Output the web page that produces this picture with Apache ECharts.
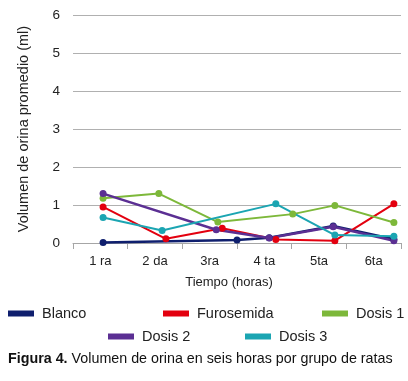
<!DOCTYPE html>
<html lang="es">
<head>
<meta charset="UTF-8">
<title>Figura 4</title>
<script src="https://cdn.jsdelivr.net/npm/echarts@6/dist/echarts.min.js"></script>
<style>
  html, body { margin: 0; padding: 0; background: #fff; }
  #main { width: 408px; height: 381px; }
</style>
</head>
<body>
<div id="main"></div>
<script>
// categorias del eje x
var horas = ['1 ra', '2 da', '3ra', '4 ta', '5ta', '6ta'];
var yTicks = [0, 1, 2, 3, 4, 5, 6];

// puntos [posicion x, volumen ml]
var blanco     = [[0.55, 0.01], [3.0, 0.08], [3.59, 0.14], [4.76, 0.45], [5.87, 0.10]];
var furosemida = [[0.55, 0.95], [1.70, 0.11], [2.73, 0.39], [3.71, 0.09], [4.79, 0.06], [5.87, 1.03]];
var dosis1     = [[0.55, 1.18], [1.57, 1.30], [2.65, 0.55], [4.02, 0.76], [4.79, 0.99], [5.87, 0.54]];
var dosis2     = [[0.55, 1.30], [2.62, 0.35], [3.59, 0.13], [4.76, 0.43], [5.87, 0.06]];
var dosis3     = [[0.55, 0.67], [1.63, 0.33], [3.71, 1.03], [4.79, 0.21], [5.87, 0.18]];

var nombres = ['Blanco', 'Furosemida', 'Dosis 1', 'Dosis 2', 'Dosis 3'];
var colores = ['#0f1f6e', '#e3000f', '#7db83a', '#5b2f93', '#1ba5b2'];
var datos = [blanco, furosemida, dosis1, dosis2, dosis3];

var font = 'Liberation Sans, Arial, sans-serif';

function serie(i) {
  return {
    name: nombres[i],
    type: 'line',
    xAxisIndex: 1,
    data: datos[i],
    symbol: 'circle',
    symbolSize: 7,
    color: colores[i],
    lineStyle: { width: (i == 0 || i == 3) ? 2.5 : 2 },
    animation: false
  };
}

function leyenda(i, left, top) {
  return {
    data: [nombres[i]],
    left: left,
    top: top,
    itemWidth: 26,
    itemHeight: 6,
    itemGap: 0,
    icon: 'rect',
    padding: 0,
    textStyle: { fontFamily: font, fontSize: 14.5, color: '#222', padding: [0, 0, 0, 3] }
  };
}

var myChart = echarts.init(document.getElementById('main'));
var options = {
  backgroundColor: '#fff',
  animation: false,
  grid: { left: 73, right: 7, top: 15, bottom: 138 },
  title: {
    text: '{b|Figura 4.} Volumen de orina en seis horas por grupo de ratas',
    left: 8,
    top: 352,
    padding: 0,
    textStyle: {
      fontFamily: font, fontSize: 14.3, fontWeight: 'normal', color: '#111',
      rich: { b: { fontFamily: font, fontSize: 14.3, fontWeight: 'bold', color: '#111' } }
    }
  },
  legend: [
    leyenda(0, 8, 306),
    leyenda(1, 163, 306),
    leyenda(2, 322, 306),
    leyenda(3, 108, 329),
    leyenda(4, 245, 329)
  ],
  xAxis: [{
    type: 'category',
    data: horas,
    boundaryGap: true,
    name: 'Tiempo (horas)',
    nameLocation: 'middle',
    nameGap: 33,
    nameTextStyle: { fontFamily: font, fontSize: 13, color: '#222', padding: [0, 16, 0, 0] },
    axisLine: { lineStyle: { color: '#a6a6a6', width: 1 } },
    axisTick: { show: true, length: 6, lineStyle: { color: '#a6a6a6' } },
    axisLabel: { fontFamily: font, fontSize: 13, color: '#222', margin: 12 },
    splitLine: { show: false }
  }, {
    type: 'value',
    min: 0,
    max: 6,
    show: false
  }],
  yAxis: {
    type: 'value',
    min: 0,
    max: 6,
    interval: 1,
    name: 'Volumen de orina promedio (ml)',
    nameLocation: 'middle',
    nameGap: 42,
    nameTextStyle: { fontFamily: font, fontSize: 14.5, color: '#222' },
    axisLine: { show: false },
    axisTick: { show: false },
    axisLabel: {
      fontFamily: font, fontSize: 13.5, color: '#222', margin: 13,
      formatter: function (v) { return yTicks.indexOf(v) >= 0 ? String(v) : ''; }
    },
    splitLine: { lineStyle: { color: '#b0b0b0', width: 1 } }
  },
  series: [serie(0), serie(1), serie(2), serie(3), serie(4)]
};
myChart.setOption(options);
</script>
</body>
</html>
